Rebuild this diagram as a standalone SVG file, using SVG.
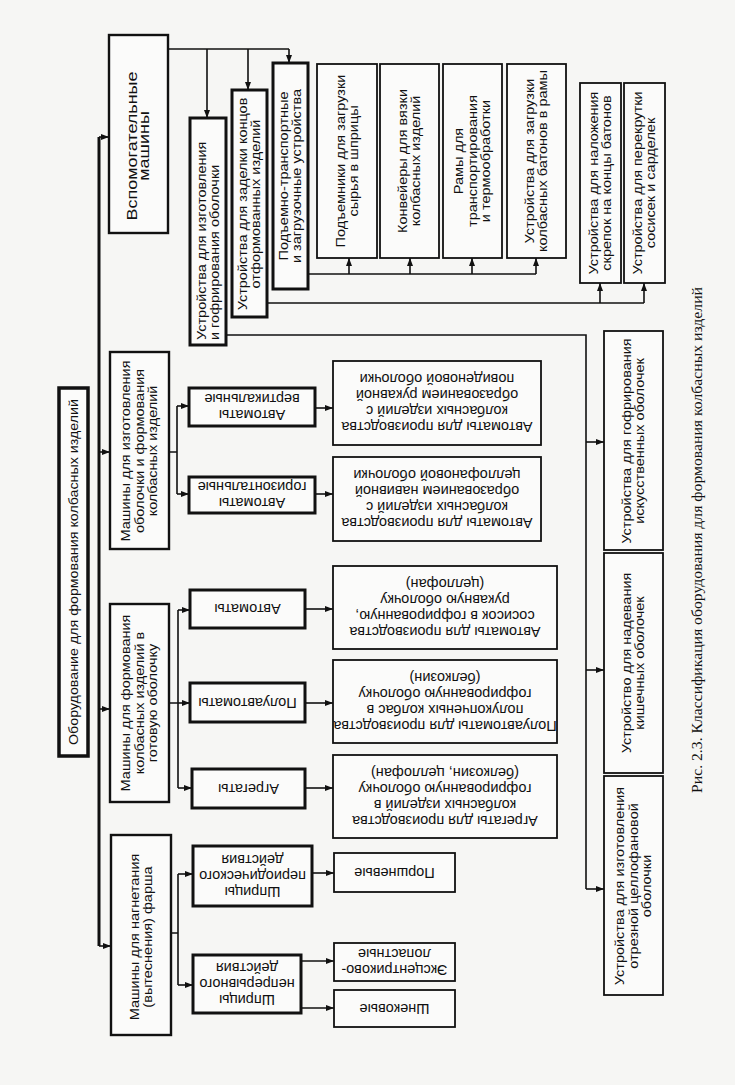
<svg xmlns="http://www.w3.org/2000/svg" width="735" height="1085" viewBox="0 0 735 1085">
<defs>
<marker id="ar" markerUnits="userSpaceOnUse" markerWidth="9" markerHeight="7" refX="8" refY="3.5" orient="auto">
<path d="M0,0.5 L8,3.5 L0,6.5 z" fill="#111"/>
</marker>
<style>
.bg{fill:#f6f6f4}
.bx{fill:#fbfbfa;stroke:#111;stroke-width:1.8}
.tk{fill:#fbfbfa;stroke:#111;stroke-width:3}
.md{fill:#fbfbfa;stroke:#111;stroke-width:2.4}
.ln{fill:none;stroke:#111;stroke-width:1.6}
.la{fill:none;stroke:#111;stroke-width:1.6;marker-end:url(#ar)}
.bus{fill:none;stroke:#111;stroke-width:3}
text{font-family:"Liberation Sans",Arial,sans-serif;font-size:14.5px;fill:#111}
.c{text-anchor:middle}
.s{text-anchor:start}
.big{font-size:18px}
.cap{font-family:"Liberation Serif","Times New Roman",serif;font-size:16px}
</style>
</defs>
<rect class="bg" x="0" y="0" width="735" height="1085"/>

<g id="connectors">
<path class="bus" d="M99,137 V946"/>
<path class="la" d="M99,137 H109"/>
<path class="la" d="M99,452 H110"/>
<path class="la" d="M99,709 H110"/>
<path class="la" d="M99,946 H111"/>
<path class="ln" d="M168,49 H289"/>
<path class="la" d="M289,49 V63"/>
<path class="la" d="M207,49 V118"/>
<path class="la" d="M248,49 V90"/>
<path class="ln" d="M308,274 H536"/>
<path class="la" d="M349,274 V258"/>
<path class="la" d="M410,274 V258"/>
<path class="la" d="M472,274 V258"/>
<path class="la" d="M536,274 V258"/>
<path class="ln" d="M267,303 H644"/>
<path class="la" d="M600,303 V283"/>
<path class="la" d="M644,303 V283"/>
<path class="ln" d="M226,335 H586 V889"/>
<path class="la" d="M586,442 H604"/>
<path class="la" d="M586,670 H604"/>
<path class="la" d="M586,889 H604"/>
<path class="ln" d="M169,452 H177 M177,406 V494"/>
<path class="la" d="M177,406 H189"/>
<path class="la" d="M177,494 H189"/>
<path class="la" d="M315,408 H333"/>
<path class="la" d="M315,494 H333"/>
<path class="ln" d="M169,703 H178 M178,610 V788"/>
<path class="la" d="M178,610 H190"/>
<path class="la" d="M178,703 H190"/>
<path class="la" d="M178,788 H192"/>
<path class="la" d="M305,609 H333"/>
<path class="la" d="M305,703 H333"/>
<path class="la" d="M305,788 H333"/>
<path class="ln" d="M171,933 H178 M178,874 V985"/>
<path class="la" d="M178,874 H193"/>
<path class="la" d="M178,985 H193"/>
<path class="la" d="M312,873 H334"/>
<path class="la" d="M301,961 H334"/>
<path class="la" d="M301,1008 H334"/>
</g>

<g id="root"><rect class="tk" x="59" y="388" width="29" height="368" style="stroke-width:3.5"/>
<text class="c" transform="translate(73.5,572) rotate(-90) scale(1,0.88)"><tspan x="0" y="5" textLength="346" lengthAdjust="spacingAndGlyphs">Оборудование для формования колбасных изделий</tspan></text></g>

<g id="aux"><rect class="md" x="109" y="35" width="59" height="198"/>
<text class="c big" transform="translate(138.5,146) rotate(-90) scale(1,0.82)"><tspan x="0" y="-2">Вспомогательные</tspan><tspan x="0" y="13">машины</tspan></text></g>

<g id="m3"><rect class="md" x="110" y="352" width="59" height="197"/>
<text class="c" transform="translate(139.5,451) rotate(-90) scale(1,0.82)"><tspan x="0" y="-11">Машины для изготовления</tspan><tspan x="0" y="5">оболочки и формования</tspan><tspan x="0" y="21">колбасных изделий</tspan></text></g>

<g id="m2"><rect class="md" x="110" y="604" width="59" height="198"/>
<text class="c" transform="translate(139.5,703) rotate(-90) scale(1,0.82)"><tspan x="0" y="-11">Машины для формования</tspan><tspan x="0" y="5">колбасных изделий в</tspan><tspan x="0" y="21">готовую оболочку</tspan></text></g>

<g id="m1"><rect class="md" x="111" y="835" width="60" height="200"/>
<text class="c" transform="translate(141,937) rotate(-90) scale(1,0.82)"><tspan x="0" y="-3">Машины для нагнетания</tspan><tspan x="0" y="13">(вытеснения) фарша</tspan></text></g>

<g id="a1"><rect class="tk" x="190" y="118" width="36" height="227"/>
<text class="s" transform="translate(208,340) rotate(-90) scale(1,0.82)"><tspan x="0" y="-3">Устройства для изготовления</tspan><tspan x="0" y="13">и гофрирования оболочки</tspan></text></g>

<g id="a2"><rect class="tk" x="232" y="90" width="35" height="227"/>
<text class="c" transform="translate(249.5,204) rotate(-90) scale(1,0.82)"><tspan x="0" y="-3">Устройства для заделки концов</tspan><tspan x="0" y="13">отформованных изделий</tspan></text></g>

<g id="a3"><rect class="tk" x="273" y="63" width="35" height="226"/>
<text class="c" transform="translate(290.5,176) rotate(-90) scale(1,0.82)"><tspan x="0" y="-3">Подъемно-транспортные</tspan><tspan x="0" y="13">и загрузочные устройства</tspan></text></g>

<g id="b1"><rect class="bx" x="317" y="64" width="60" height="194"/>
<text class="c" transform="translate(347,161) rotate(-90) scale(1,0.82)"><tspan x="0" y="-3">Подъемники для загрузки</tspan><tspan x="0" y="13">сырья в шприцы</tspan></text></g>

<g id="b2"><rect class="bx" x="380" y="64" width="59" height="194"/>
<text class="c" transform="translate(409.5,161) rotate(-90) scale(1,0.82)"><tspan x="0" y="-3">Конвейеры для вязки</tspan><tspan x="0" y="13">колбасных изделий</tspan></text></g>

<g id="b3"><rect class="bx" x="443" y="64" width="59" height="194"/>
<text class="c" transform="translate(472.5,161) rotate(-90) scale(1,0.82)"><tspan x="0" y="-11">Рамы для</tspan><tspan x="0" y="5">транспортирования</tspan><tspan x="0" y="21">и термообработки</tspan></text></g>

<g id="b4"><rect class="bx" x="507" y="64" width="59" height="194"/>
<text class="c" transform="translate(536.5,161) rotate(-90) scale(1,0.82)"><tspan x="0" y="-3">Устройства для загрузки</tspan><tspan x="0" y="13">колбасных батонов в рамы</tspan></text></g>

<g id="c1"><rect class="bx" x="580" y="83" width="41" height="200"/>
<text class="c" transform="translate(600.5,183) rotate(-90) scale(1,0.82)"><tspan x="0" y="-3">Устройства для наложения</tspan><tspan x="0" y="13">скрепок на концы батонов</tspan></text></g>

<g id="c2"><rect class="bx" x="624" y="83" width="41" height="200"/>
<text class="c" transform="translate(644.5,183) rotate(-90) scale(1,0.82)"><tspan x="0" y="-3">Устройства для перекрутки</tspan><tspan x="0" y="13">сосисек и сарделек</tspan></text></g>

<g id="d1"><rect class="bx" x="604" y="331" width="59" height="219"/>
<text class="c" transform="translate(633.5,441) rotate(-90) scale(1,0.82)"><tspan x="0" y="-3">Устройства для гофрирования</tspan><tspan x="0" y="13">искусственных оболочек</tspan></text></g>

<g id="d2"><rect class="bx" x="604" y="553" width="59" height="220"/>
<text class="c" transform="translate(633.5,663) rotate(-90) scale(1,0.82)"><tspan x="0" y="-3">Устройство для надевания</tspan><tspan x="0" y="13">кишечных оболочек</tspan></text></g>

<g id="d3"><rect class="bx" x="604" y="776" width="59" height="219"/>
<text class="c" transform="translate(633.5,886) rotate(-90) scale(1,0.82)"><tspan x="0" y="-11">Устройства для изготовления</tspan><tspan x="0" y="5">отрезной целлофановой</tspan><tspan x="0" y="21">оболочки</tspan></text></g>

<g id="av"><rect class="tk" x="189" y="388" width="126" height="38"/>
<text class="c" transform="translate(252,407) rotate(180)"><tspan x="0" y="-3">Автоматы</tspan><tspan x="0" y="13">вертикальные</tspan></text></g>

<g id="ah"><rect class="tk" x="189" y="477" width="126" height="36"/>
<text class="c" transform="translate(252,495) rotate(180)"><tspan x="0" y="-3">Автоматы</tspan><tspan x="0" y="13">горизонтальные</tspan></text></g>

<g id="dv"><rect class="bx" x="333" y="361" width="208" height="84"/>
<text class="c" transform="translate(437,403) rotate(180)"><tspan x="0" y="-19">Автоматы для производства</tspan><tspan x="0" y="-3">колбасных изделий с</tspan><tspan x="0" y="13">образованием рукавной</tspan><tspan x="0" y="29">повиденовой оболочки</tspan></text></g>

<g id="dh"><rect class="bx" x="333" y="457" width="208" height="84"/>
<text class="c" transform="translate(437,499) rotate(180)"><tspan x="0" y="-19">Автоматы для производства</tspan><tspan x="0" y="-3">колбасных изделий с</tspan><tspan x="0" y="13">образованием навивной</tspan><tspan x="0" y="29">целлофановой оболочки</tspan></text></g>

<g id="aa"><rect class="tk" x="190" y="590" width="115" height="38"/>
<text class="c" transform="translate(247.5,609) rotate(180)"><tspan x="0" y="5">Автоматы</tspan></text></g>

<g id="ap"><rect class="tk" x="190" y="683" width="115" height="39"/>
<text class="c" transform="translate(247.5,702.5) rotate(180)"><tspan x="0" y="5">Полуавтоматы</tspan></text></g>

<g id="ag"><rect class="tk" x="192" y="769" width="113" height="39"/>
<text class="c" transform="translate(248.5,788.5) rotate(180)"><tspan x="0" y="5">Агрегаты</tspan></text></g>

<g id="da"><rect class="bx" x="333" y="566" width="224" height="83"/>
<text class="c" transform="translate(445,607.5) rotate(180)"><tspan x="0" y="-19">Автоматы для производства</tspan><tspan x="0" y="-3">сосисок в гофрированную,</tspan><tspan x="0" y="13">рукавную оболочку</tspan><tspan x="0" y="29">(целлофан)</tspan></text></g>

<g id="dp"><rect class="bx" x="333" y="660" width="224" height="83"/>
<text class="c" transform="translate(445,701.5) rotate(180)"><tspan x="0" y="-19">Полуавтоматы для производства</tspan><tspan x="0" y="-3">полукопченых колбас в</tspan><tspan x="0" y="13">гофрированную оболочку</tspan><tspan x="0" y="29">(белкозин)</tspan></text></g>

<g id="dg"><rect class="bx" x="333" y="755" width="224" height="83"/>
<text class="c" transform="translate(445,796.5) rotate(180)"><tspan x="0" y="-19">Агрегаты для производства</tspan><tspan x="0" y="-3">колбасных изделий в</tspan><tspan x="0" y="13">гофрированную оболочку</tspan><tspan x="0" y="29">(белкозин, целлофан)</tspan></text></g>

<g id="sp"><rect class="tk" x="193" y="846" width="119" height="60"/>
<text class="c" transform="translate(252.5,876) rotate(180)"><tspan x="0" y="-11">Шприцы</tspan><tspan x="0" y="5">периодического</tspan><tspan x="0" y="21">действия</tspan></text></g>

<g id="sn"><rect class="tk" x="193" y="955" width="108" height="58"/>
<text class="c" transform="translate(247,984) rotate(180)"><tspan x="0" y="-11">Шприцы</tspan><tspan x="0" y="5">непрерывного</tspan><tspan x="0" y="21">действия</tspan></text></g>

<g id="pr"><rect class="bx" x="334" y="853" width="121" height="39"/>
<text class="c" transform="translate(394.5,872.5) rotate(180)"><tspan x="0" y="5">Поршневые</tspan></text></g>

<g id="ek"><rect class="bx" x="334" y="943" width="121" height="38"/>
<text class="c" transform="translate(394.5,962) rotate(180)"><tspan x="0" y="-3">Эксцентриково-</tspan><tspan x="0" y="13">лопастные</tspan></text></g>

<g id="sh"><rect class="bx" x="334" y="990" width="121" height="37"/>
<text class="c" transform="translate(394.5,1008.5) rotate(180)"><tspan x="0" y="5">Шнековые</tspan></text></g>

<g id="caption">
<text class="c cap" transform="translate(697,540) rotate(-90) scale(1,0.9)"><tspan x="0" y="5" textLength="506" lengthAdjust="spacingAndGlyphs">Рис. 2.3. Классификация оборудования для формования колбасных изделий</tspan></text>
</g>
</svg>
